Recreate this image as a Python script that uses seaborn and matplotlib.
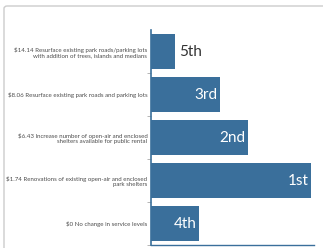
import matplotlib
matplotlib.use("Agg")
import matplotlib.pyplot as plt
import seaborn as sns
import pandas as pd
from matplotlib.patches import FancyBboxPatch

# data
labels = [
    "$14.14 Resurface existing park roads/parking lots\nwith addition of trees, islands and medians",
    "$8.06 Resurface existing park roads and parking lots",
    "$6.43 Increase number of open-air and enclosed\nshelters available for public rental",
    "$1.74 Renovations of existing open-air and enclosed\npark shelters",
    "$0 No change in service levels",
]
scores = [24, 69, 97, 160, 48]
ranks = ["5th", "3rd", "2nd", "1st", "4th"]

df = pd.DataFrame({"label": labels, "score": scores, "rank": ranks})

sns.set_theme(style="white")
plt.rcParams["font.family"] = ["Lato", "DejaVu Sans"]

bar_color = "#3a6f9b"

fig = plt.figure(figsize=(3.23, 2.48), dpi=100)
ax = fig.add_axes([0.469, 0.012, 0.504, 0.867])

sns.barplot(data=df, x="score", y="label", color=bar_color, saturation=1,
            width=0.82, ax=ax, edgecolor="none")

ax.set_xlim(0, 163)
ax.set_ylim(4.5, -0.5)
ax.set_xlabel("")
ax.set_ylabel("")
ax.set_xticks([])
ax.tick_params(axis="y", which="major", left=False, length=0,
               labelsize=4.45, labelcolor="#4d4d4d", pad=3)
ax.set_yticks([i + 0.5 for i in range(5)], minor=True)
ax.tick_params(axis="y", which="minor", left=True, length=3,
               color="#aaaaaa", width=0.6)

for s in ["top", "right"]:
    ax.spines[s].set_visible(False)
ax.spines["left"].set_color(bar_color)
ax.spines["bottom"].set_color(bar_color)
ax.spines["left"].set_linewidth(1.2)
ax.spines["bottom"].set_linewidth(1.0)

for i, (v, r) in enumerate(zip(scores, ranks)):
    if v < 40:
        ax.text(v + 4, i, r, ha="left", va="center", fontsize=11, color="#333333")
    else:
        ax.text(v - 3, i, r, ha="right", va="center", fontsize=11, color="white")

frame = FancyBboxPatch((4 / 323, -0.05), 1.2, 1.05 - 6 / 248,
                       boxstyle="round,pad=0,rounding_size=0.01",
                       transform=fig.transFigure, fill=False,
                       edgecolor="#cccccc", linewidth=1.0)
fig.patches.append(frame)

fig.savefig("out.png", dpi=100)
